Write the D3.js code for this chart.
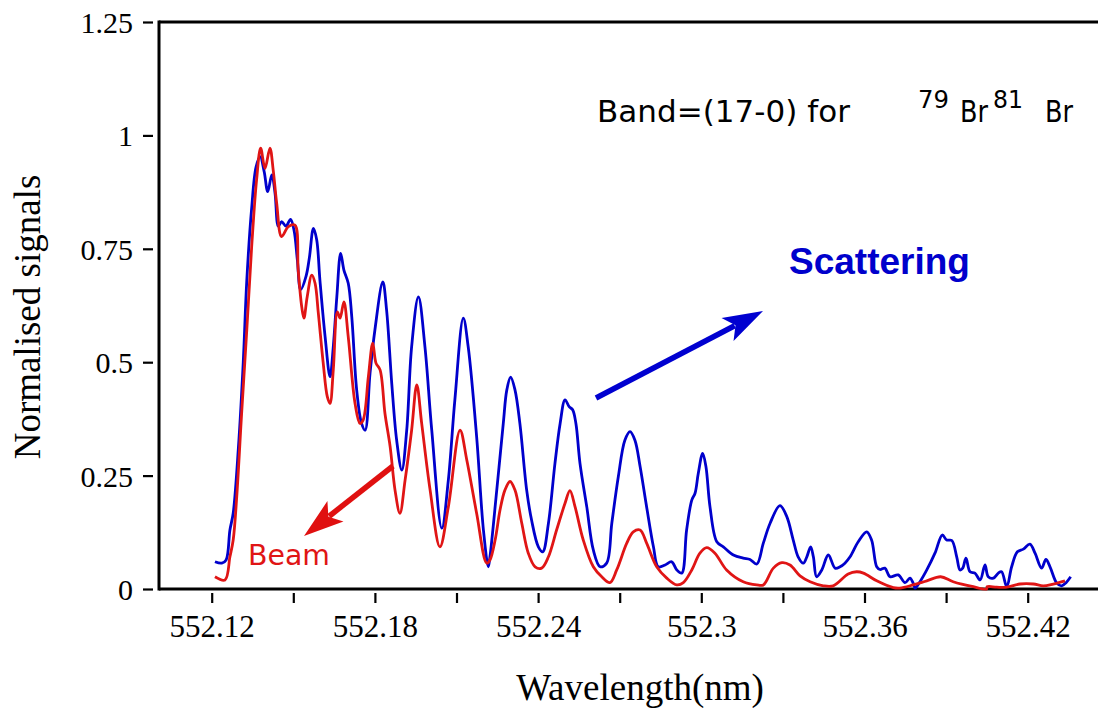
<!DOCTYPE html>
<html>
<head>
<meta charset="utf-8">
<script src="https://cdn.jsdelivr.net/npm/d3@7"></script>
<style>
  body { margin: 0; background: #fff; }
  svg { display: block; }
</style>
</head>
<body>
<div id="chart"></div>
<script>
// Data
var blueWave = [552.1212, 552.1237, 552.1253, 552.1267, 552.1279, 552.1298, 552.1316, 552.1329, 552.1347, 552.1363,
  552.1378, 552.1393, 552.1406, 552.1421, 552.1433, 552.1445, 552.1457, 552.1473, 552.1490, 552.1503,
  552.1515, 552.1527, 552.1547, 552.1559, 552.1574, 552.1586, 552.1598, 552.1617, 552.1635, 552.1647,
  552.1660, 552.1674, 552.1686, 552.1702, 552.1715, 552.1733, 552.1751, 552.1764, 552.1782, 552.1800,
  552.1829, 552.1843, 552.1862, 552.1880, 552.1899, 552.1917, 552.1935, 552.1960, 552.1984, 552.2009,
  552.2046, 552.2070, 552.2094, 552.2125, 552.2143, 552.2174, 552.2199, 552.2217, 552.2223, 552.2248,
  552.2272, 552.2285, 552.2299, 552.2315, 552.2333, 552.2358, 552.2376, 552.2401, 552.2417, 552.2438,
  552.2462, 552.2481, 552.2499, 552.2514, 552.2527, 552.2539, 552.2554, 552.2579, 552.2603, 552.2628,
  552.2652, 552.2671, 552.2695, 552.2719, 552.2738, 552.2756, 552.2775, 552.2799, 552.2824, 552.2842,
  552.2867, 552.2891, 552.2910, 552.2928, 552.2946, 552.2965, 552.2977, 552.2989, 552.3005, 552.3017,
  552.3032, 552.3057, 552.3081, 552.3118, 552.3154, 552.3179, 552.3204, 552.3228, 552.3253, 552.3289,
  552.3314, 552.3338, 552.3356, 552.3375, 552.3388, 552.3402, 552.3412, 552.3424, 552.3443, 552.3467,
  552.3492, 552.3510, 552.3528, 552.3547, 552.3577, 552.3608, 552.3626, 552.3645, 552.3657, 552.3675,
  552.3694, 552.3724, 552.3749, 552.3767, 552.3779, 552.3786, 552.3804, 552.3829, 552.3859, 552.3886,
  552.3902, 552.3921, 552.3939, 552.3951, 552.3961, 552.3973, 552.3988, 552.4006, 552.4025, 552.4043,
  552.4055, 552.4074, 552.4092, 552.4104, 552.4123, 552.4141, 552.4162, 552.4184, 552.4208, 552.4227,
  552.4251, 552.4267, 552.4282, 552.4307, 552.4325, 552.4341, 552.4358];
var blueSignal = [0.060, 0.057, 0.064, 0.130, 0.167, 0.310, 0.500, 0.680, 0.840, 0.930,
  0.953, 0.920, 0.876, 0.913, 0.872, 0.800, 0.810, 0.800, 0.815, 0.790,
  0.725, 0.660, 0.690, 0.730, 0.795, 0.770, 0.680, 0.556, 0.468, 0.534,
  0.644, 0.740, 0.703, 0.674, 0.600, 0.439, 0.365, 0.350, 0.475, 0.571,
  0.677, 0.615, 0.453, 0.328, 0.262, 0.350, 0.534, 0.644, 0.534, 0.350,
  0.134, 0.240, 0.417, 0.597, 0.534, 0.336, 0.130, 0.049, 0.071, 0.218,
  0.365, 0.439, 0.467, 0.439, 0.365, 0.218, 0.152, 0.093, 0.082, 0.145,
  0.277, 0.365, 0.417, 0.402, 0.395, 0.365, 0.277, 0.181, 0.086, 0.049,
  0.057, 0.145, 0.248, 0.328, 0.347, 0.328, 0.270, 0.181, 0.093, 0.049,
  0.053, 0.060, 0.042, 0.035, 0.130, 0.196, 0.211, 0.255, 0.299, 0.270,
  0.181, 0.104, 0.093, 0.075, 0.068, 0.065, 0.055, 0.101, 0.145, 0.184,
  0.160, 0.108, 0.071, 0.057, 0.071, 0.093, 0.071, 0.027, 0.042, 0.075,
  0.046, 0.049, 0.057, 0.071, 0.104, 0.126, 0.108, 0.049, 0.043, 0.046,
  0.027, 0.031, 0.014, 0.024, 0.013, 0.002, 0.016, 0.042, 0.079, 0.119,
  0.108, 0.107, 0.071, 0.042, 0.046, 0.068, 0.038, 0.035, 0.020, 0.053,
  0.027, 0.024, 0.035, 0.038, 0.005, 0.049, 0.082, 0.088, 0.099, 0.079,
  0.046, 0.065, 0.049, 0.013, 0.007, 0.014, 0.027];

var redWave = [552.1212, 552.1249, 552.1267, 552.1279, 552.1292, 552.1310, 552.1329, 552.1347, 552.1365, 552.1380,
  552.1396, 552.1414, 552.1426, 552.1439, 552.1457, 552.1482, 552.1506, 552.1518, 552.1531, 552.1539,
  552.1551, 552.1568, 552.1580, 552.1592, 552.1610, 552.1625, 552.1635, 552.1647, 552.1662, 552.1672,
  552.1686, 552.1702, 552.1727, 552.1745, 552.1757, 552.1776, 552.1792, 552.1804, 552.1819, 552.1837,
  552.1856, 552.1874, 552.1892, 552.1911, 552.1935, 552.1954, 552.1972, 552.2003, 552.2039, 552.2070,
  552.2113, 552.2138, 552.2174, 552.2211, 552.2223, 552.2242, 552.2260, 552.2278, 552.2297, 552.2315,
  552.2340, 552.2364, 552.2389, 552.2413, 552.2438, 552.2468, 552.2499, 552.2517, 552.2536, 552.2566,
  552.2603, 552.2634, 552.2664, 552.2689, 552.2726, 552.2750, 552.2775, 552.2799, 552.2836, 552.2873,
  552.2910, 552.2934, 552.2965, 552.2995, 552.3020, 552.3050, 552.3093, 552.3154, 552.3204, 552.3228,
  552.3265, 552.3296, 552.3326, 552.3363, 552.3400, 552.3449, 552.3485, 552.3540, 552.3571, 552.3596,
  552.3645, 552.3706, 552.3730, 552.3779, 552.3829, 552.3880, 552.3926, 552.4000, 552.4049, 552.4051,
  552.4086, 552.4123, 552.4172, 552.4221, 552.4257, 552.4294, 552.4337];
var redSignal = [0.027, 0.020, 0.071, 0.108, 0.203, 0.387, 0.571, 0.755, 0.902, 0.972,
  0.927, 0.972, 0.924, 0.850, 0.777, 0.799, 0.802, 0.703, 0.622, 0.597,
  0.644, 0.692, 0.674, 0.608, 0.498, 0.424, 0.409, 0.483, 0.611, 0.597,
  0.633, 0.556, 0.409, 0.365, 0.373, 0.468, 0.542, 0.498, 0.483, 0.387,
  0.314, 0.218, 0.167, 0.240, 0.350, 0.450, 0.365, 0.218, 0.093, 0.181,
  0.350, 0.284, 0.167, 0.057, 0.064, 0.108, 0.174, 0.218, 0.237, 0.218,
  0.145, 0.079, 0.049, 0.046, 0.071, 0.130, 0.189, 0.217, 0.181, 0.108,
  0.049, 0.027, 0.014, 0.042, 0.101, 0.126, 0.130, 0.101, 0.049, 0.024,
  0.009, 0.014, 0.042, 0.079, 0.091, 0.079, 0.042, 0.016, 0.009, 0.009,
  0.046, 0.058, 0.053, 0.029, 0.016, 0.007, 0.007, 0.033, 0.038, 0.035,
  0.018, 0.003, 0.002, 0.009, 0.018, 0.027, 0.016, 0.005, 0.000, 0.005,
  0.004, 0.004, 0.011, 0.011, 0.007, 0.011, 0.018];

var xTicks = [552.12, 552.15, 552.18, 552.21, 552.24, 552.27, 552.30, 552.33, 552.36, 552.39, 552.42];
var xTickLabels = ["552.12", "", "552.18", "", "552.24", "", "552.3", "", "552.36", "", "552.42"];
var yTicks = [0, 0.25, 0.5, 0.75, 1, 1.25];
var yTickLabels = ["0", "0.25", "0.5", "0.75", "1", "1.25"];

var svgWidth = 1098;
var svgHeight = 708;
var serif = "'Liberation Serif', 'Times New Roman', serif";
var sans = "'DejaVu Sans', Verdana, sans-serif";

var svg = d3.select("#chart")
    .append("svg")
    .attr("width", svgWidth)
    .attr("height", svgHeight);

// scales
var xScale = d3.scaleLinear()
    .domain([552.12, 552.42])
    .range([211.7, 1027.7]);

var yScale = d3.scaleLinear()
    .domain([0, 1.25])
    .range([589, 22]);

var axisLeftX = 159;
var axisBottomY = 589;

// x axis (ticks sit a little below the axis line)
var bottomAxis = d3.axisBottom(xScale)
    .tickValues(xTicks)
    .tickSize(0)
    .tickPadding(0)
    .tickFormat((d, i) => xTickLabels[i]);

var xAxis = svg.append("g")
    .attr("transform", `translate(0,${axisBottomY})`)
    .call(bottomAxis);
xAxis.select(".domain").remove();
xAxis.selectAll(".tick line")
    .attr("y1", 4).attr("y2", 14)
    .attr("stroke", "#000").attr("stroke-width", 2.2);
xAxis.selectAll(".tick text")
    .attr("y", 48).attr("dy", 0)
    .attr("fill", "#000")
    .style("font-family", serif)
    .style("font-size", "31px");

// y axis
var leftAxis = d3.axisLeft(yScale)
    .tickValues(yTicks)
    .tickSize(0)
    .tickPadding(0)
    .tickFormat((d, i) => yTickLabels[i]);

var yAxis = svg.append("g")
    .attr("transform", `translate(${axisLeftX},0)`)
    .call(leftAxis);
yAxis.select(".domain").remove();
yAxis.selectAll(".tick line")
    .attr("x1", -6).attr("x2", -16)
    .attr("stroke", "#000").attr("stroke-width", 2.2);
yAxis.selectAll(".tick text")
    .attr("x", -26).attr("dy", "0.35em")
    .attr("fill", "#000")
    .style("font-family", serif)
    .style("font-size", "30px");

// frame lines
svg.append("line")
    .attr("x1", axisLeftX).attr("x2", svgWidth)
    .attr("y1", axisBottomY).attr("y2", axisBottomY)
    .attr("stroke", "#000").attr("stroke-width", 3);
svg.append("line")
    .attr("x1", axisLeftX).attr("x2", svgWidth)
    .attr("y1", 22).attr("y2", 22)
    .attr("stroke", "#000").attr("stroke-width", 3);
svg.append("line")
    .attr("x1", axisLeftX).attr("x2", axisLeftX)
    .attr("y1", 20.5).attr("y2", axisBottomY + 1.5)
    .attr("stroke", "#000").attr("stroke-width", 3);

// axis titles
svg.append("text")
    .attr("x", 640).attr("y", 700)
    .attr("text-anchor", "middle")
    .style("font-family", serif)
    .style("font-size", "37px")
    .text("Wavelength(nm)");

svg.append("text")
    .attr("transform", "translate(40,317) rotate(-90)")
    .attr("text-anchor", "middle")
    .style("font-family", serif)
    .style("font-size", "37px")
    .text("Normalised signals");

// curves
var line = d3.line()
    .x(d => xScale(d[0]))
    .y(d => yScale(d[1]))
    .curve(d3.curveCatmullRom.alpha(0.5));

var blueData = blueWave.map((w, i) => [w, blueSignal[i]]);
var redData = redWave.map((w, i) => [w, redSignal[i]]);

svg.append("path")
    .datum(blueData)
    .attr("d", line)
    .attr("fill", "none")
    .attr("stroke", "#0000cc")
    .attr("stroke-width", 2.8)
    .attr("stroke-linejoin", "round");

svg.append("path")
    .datum(redData)
    .attr("d", line)
    .attr("fill", "none")
    .attr("stroke", "#e01515")
    .attr("stroke-width", 2.8)
    .attr("stroke-linejoin", "round");

// annotation text
svg.append("text")
    .attr("x", 597).attr("y", 122)
    .style("font-family", sans)
    .style("font-size", "31px")
    .attr("textLength", 253)
    .attr("lengthAdjust", "spacing")
    .text("Band=(17-0) for");

svg.append("text").attr("x", 918).attr("y", 108)
    .style("font-family", sans).style("font-size", "24px")
    .attr("textLength", 31).attr("lengthAdjust", "spacingAndGlyphs").text("79");
svg.append("text").attr("x", 960).attr("y", 122)
    .style("font-family", sans).style("font-size", "31px")
    .attr("textLength", 28).attr("lengthAdjust", "spacingAndGlyphs").text("Br");
svg.append("text").attr("x", 993).attr("y", 108)
    .style("font-family", sans).style("font-size", "24px")
    .attr("textLength", 30).attr("lengthAdjust", "spacingAndGlyphs").text("81");
svg.append("text").attr("x", 1045).attr("y", 122)
    .style("font-family", sans).style("font-size", "31px")
    .attr("textLength", 28).attr("lengthAdjust", "spacingAndGlyphs").text("Br");

svg.append("text")
    .attr("x", 789).attr("y", 274)
    .style("font-family", "'Liberation Sans', Arial, sans-serif")
    .style("font-weight", "bold")
    .style("font-size", "37px")
    .attr("fill", "#0000cc")
    .text("Scattering");

svg.append("text")
    .attr("x", 248).attr("y", 565)
    .style("font-family", sans)
    .style("font-size", "28px")
    .attr("textLength", 82)
    .attr("lengthAdjust", "spacingAndGlyphs")
    .attr("fill", "#e01515")
    .text("Beam");

// arrows
function drawArrow(x1, y1, x2, y2, color) {
    var ang = Math.atan2(y2 - y1, x2 - x1);
    var headLen = 40, headHalf = 13;
    var bx = x2 - headLen * Math.cos(ang), by = y2 - headLen * Math.sin(ang);
    svg.append("line")
        .attr("x1", x1).attr("y1", y1)
        .attr("x2", bx + 8 * Math.cos(ang)).attr("y2", by + 8 * Math.sin(ang))
        .attr("stroke", color).attr("stroke-width", 5.5);
    var nx = -Math.sin(ang), ny = Math.cos(ang);
    var notch = 9;
    var pts = [
        [x2, y2],
        [bx + nx * headHalf, by + ny * headHalf],
        [bx + notch * Math.cos(ang), by + notch * Math.sin(ang)],
        [bx - nx * headHalf, by - ny * headHalf]
    ];
    svg.append("polygon")
        .attr("points", pts.map(p => p.join(",")).join(" "))
        .attr("fill", color);
}

drawArrow(596, 398, 763, 311, "#0000d0");
drawArrow(393, 466, 304, 536, "#e01010");
</script>
</body>
</html>
